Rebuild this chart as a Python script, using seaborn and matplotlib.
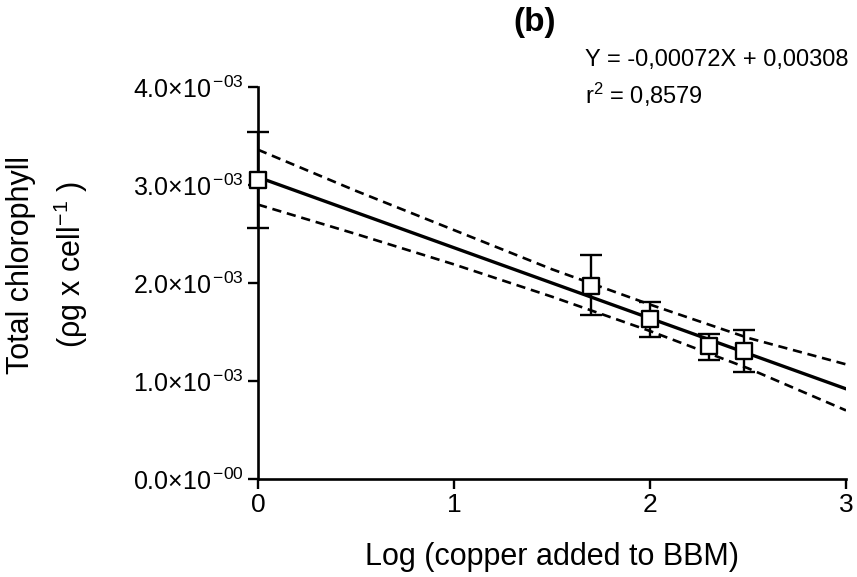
import matplotlib
matplotlib.use("Agg")
import matplotlib.pyplot as plt
import seaborn as sns
import numpy as np
import pandas as pd

# ---- data ----
x_pts = [0.0, 1.70, 2.00, 2.30, 2.48]
y_pts = [3.05e-3, 1.97e-3, 1.63e-3, 1.36e-3, 1.31e-3]
y_err_top = [3.54e-3, 2.29e-3, 1.81e-3, 1.48e-3, 1.52e-3]
y_err_bot = [2.56e-3, 1.67e-3, 1.45e-3, 1.21e-3, 1.09e-3]

slope = -0.00072
intercept = 0.00308
fit_x = [0.0, 3.0]

band_x = [0.0, 0.5, 1.0, 1.5, 2.0, 2.5, 3.0]
band_upper = [3.36e-3, 2.94e-3, 2.54e-3, 2.14e-3, 1.78e-3, 1.44e-3, 1.17e-3]
band_lower = [2.80e-3, 2.50e-3, 2.19e-3, 1.86e-3, 1.51e-3, 1.13e-3, 0.70e-3]

x_ticks = [0, 1, 2, 3]
y_ticks = [0.0, 1.0e-3, 2.0e-3, 3.0e-3, 4.0e-3]
y_tick_labels = [r"0.0×10$^{\,\mathregular{-00}}$", r"1.0×10$^{\,\mathregular{-03}}$",
                 r"2.0×10$^{\,\mathregular{-03}}$", r"3.0×10$^{\,\mathregular{-03}}$",
                 r"4.0×10$^{\,\mathregular{-03}}$"]

title = "(b)"
eq_text = "Y = -0,00072X + 0,00308"
r2_text = r"r$^{\mathregular{2}}$ = 0,8579"
xlabel = "Log (copper added to BBM)"
ylabel = "Total chlorophyll\n(ρg x cell$^{\\mathregular{-1}}$ )"

# ---- style ----
sns.set_theme(style="ticks")
plt.rcParams["font.family"] = ["Liberation Sans", "DejaVu Sans"]
plt.rcParams["mathtext.fontset"] = "custom"
plt.rcParams["mathtext.rm"] = "Liberation Sans"
plt.rcParams["mathtext.it"] = "Liberation Sans:italic"
plt.rcParams["mathtext.bf"] = "Liberation Sans:bold"
for key in ["text.color", "axes.labelcolor", "xtick.color", "ytick.color", "axes.edgecolor"]:
    plt.rcParams[key] = "black"

fig = plt.figure(figsize=(8.57, 5.77), dpi=100)
ax = fig.add_axes([258 / 857, 1 - 479 / 577, (846 - 258) / 857, (479 - 87) / 577])

fit_df = pd.DataFrame({"x": fit_x, "y": [slope * v + intercept for v in fit_x]})
band_df = pd.DataFrame({"x": band_x, "upper": band_upper, "lower": band_lower})
pts_df = pd.DataFrame({"x": x_pts, "y": y_pts})

sns.lineplot(data=fit_df, x="x", y="y", ax=ax, color="black", lw=2.4, zorder=2)
sns.lineplot(data=band_df, x="x", y="upper", ax=ax, color="black", lw=1.9,
             linestyle=(0, (3.5, 2.2)), zorder=2)
sns.lineplot(data=band_df, x="x", y="lower", ax=ax, color="black", lw=1.9,
             linestyle=(0, (3.5, 2.2)), zorder=2)

yerr = [np.array(y_pts) - np.array(y_err_bot), np.array(y_err_top) - np.array(y_pts)]
ax.errorbar(x_pts, y_pts, yerr=yerr, fmt="none", ecolor="black", elinewidth=1.7,
            capsize=8, capthick=1.7, zorder=3, clip_on=False)
sns.scatterplot(data=pts_df, x="x", y="y", ax=ax, marker="s", s=130,
                facecolor="white", edgecolor="black", linewidth=1.7, zorder=4,
                clip_on=False)

ax.set_xlim(0, 3)
ax.set_ylim(0, 4.0e-3)
ax.set_xticks(x_ticks)
ax.set_xticklabels([str(t) for t in x_ticks], fontsize=19)
ax.set_yticks(y_ticks)
ax.set_yticklabels(y_tick_labels, fontsize=18)
ax.tick_params(axis="both", direction="out", length=7, width=1.7, color="black", pad=3)
for side in ["top", "right"]:
    ax.spines[side].set_visible(False)
for side in ["left", "bottom"]:
    ax.spines[side].set_linewidth(1.9)
    ax.spines[side].set_color("black")
ax.set_xlabel("")
ax.set_ylabel("")

fig.text(0.5 * (258 + 846) / 857, 1 - 557 / 577, xlabel, ha="center", va="center", fontsize=22)
fig.text(48 / 857, 1 - 265 / 577, ylabel, ha="center", va="center", rotation=90,
         fontsize=22, multialignment="center", linespacing=1.55)
fig.text(535 / 857, 1 - 22 / 577, title, ha="center", va="center", fontsize=24,
         fontweight="bold")
fig.text(585 / 857, 1 - 60 / 577, eq_text, ha="left", va="center", fontsize=17)
fig.text(585 / 857, 1 - 95 / 577, r2_text, ha="left", va="center", fontsize=17)

fig.savefig("out.png", dpi=100)
